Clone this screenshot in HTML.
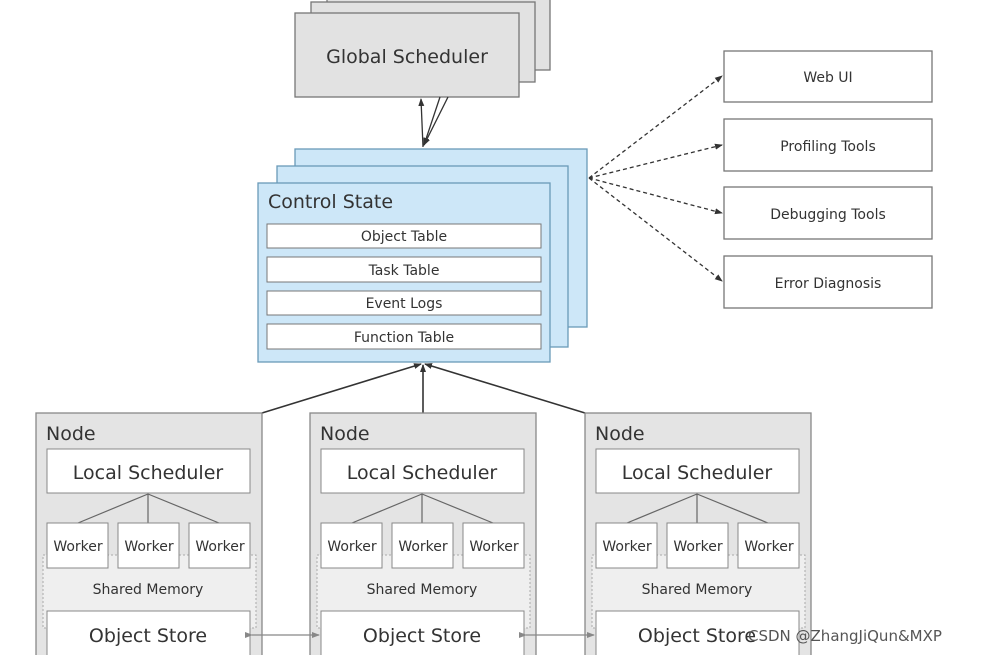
<!DOCTYPE html><html><head><style>body{margin:0;background:#fff}svg{display:block}text{font-family:"DejaVu Sans","Liberation Sans",sans-serif;fill:#333}</style></head><body>
<svg width="988" height="655" xmlns="http://www.w3.org/2000/svg">
<defs>
<marker id="a" markerWidth="8" markerHeight="8" refX="7" refY="4" orient="auto" markerUnits="userSpaceOnUse"><path d="M0,1 L8,4 L0,7z" fill="#333"/></marker>
<marker id="g" markerWidth="8" markerHeight="8" refX="7" refY="4" orient="auto" markerUnits="userSpaceOnUse"><path d="M0,1 L8,4 L0,7z" fill="#888"/></marker>
</defs>
<g fill="#e2e2e2" stroke="#777" stroke-width="1.3">
<rect x="327" y="-10" width="223" height="80"/>
<rect x="311" y="2" width="224" height="80"/>
<rect x="295" y="13" width="224" height="84"/>
</g>
<text x="407" y="63" font-size="19" text-anchor="middle">Global Scheduler</text>
<g stroke="#333" stroke-width="1.3" fill="none">
<line x1="423" y1="147" x2="421" y2="99" marker-end="url(#a)"/>
<line x1="440" y1="97" x2="424" y2="145" marker-end="url(#a)"/>
<line x1="448" y1="97" x2="424" y2="145" marker-end="url(#a)"/>
</g>
<g fill="#cde7f8" stroke="#6a9ab8" stroke-width="1.3">
<rect x="295" y="149" width="292" height="178"/>
<rect x="277" y="166" width="291" height="181"/>
<rect x="258" y="183" width="292" height="179"/>
</g>
<text x="268" y="208" font-size="19">Control State</text>
<g fill="#fff" stroke="#777" stroke-width="1">
<rect x="267" y="224" width="274" height="24"/><rect x="267" y="257" width="274" height="25"/>
<rect x="267" y="291" width="274" height="24"/><rect x="267" y="324" width="274" height="25"/>
</g>
<g font-size="14" text-anchor="middle"><text x="404" y="241">Object Table</text><text x="404" y="275">Task Table</text><text x="404" y="308">Event Logs</text><text x="404" y="342">Function Table</text></g>
<g fill="#fff" stroke="#777" stroke-width="1.3">
<rect x="724" y="51" width="208" height="51"/><rect x="724" y="119" width="208" height="52"/>
<rect x="724" y="187" width="208" height="52"/><rect x="724" y="256" width="208" height="52"/>
</g>
<g font-size="14" text-anchor="middle"><text x="828" y="82">Web UI</text><text x="828" y="151">Profiling Tools</text><text x="828" y="219">Debugging Tools</text><text x="828" y="288">Error Diagnosis</text></g>
<g stroke="#333" stroke-width="1.3" stroke-dasharray="4,3" fill="none">
<line x1="589" y1="178" x2="722" y2="76" marker-end="url(#a)"/>
<line x1="589" y1="178" x2="722" y2="145" marker-end="url(#a)"/>
<line x1="589" y1="178" x2="722" y2="213" marker-end="url(#a)"/>
<line x1="589" y1="178" x2="722" y2="281" marker-end="url(#a)"/>
</g>
<g stroke="#333" stroke-width="1.6">
<line x1="262" y1="413" x2="421" y2="364" marker-end="url(#a)"/>
<line x1="423" y1="413" x2="423" y2="365" marker-end="url(#a)"/>
<line x1="585" y1="413" x2="425" y2="364" marker-end="url(#a)"/>
</g>
<g id="n">
<rect x="36" y="413" width="226" height="250" fill="#e4e4e4" stroke="#888" stroke-width="1.3"/>
<text x="46" y="440" font-size="19">Node</text>
<rect x="47" y="449" width="203" height="44" fill="#fff" stroke="#888"/>
<text x="148" y="479" font-size="19" text-anchor="middle">Local Scheduler</text>
<rect x="43" y="555" width="213" height="73" fill="#efefef" stroke="#aaa" stroke-dasharray="2,2"/>
<g stroke="#666" stroke-width="1.2"><line x1="148" y1="494" x2="78" y2="523"/><line x1="148" y1="494" x2="148" y2="523"/><line x1="148" y1="494" x2="219" y2="523"/></g>
<g fill="#fff" stroke="#888"><rect x="47" y="523" width="61" height="45"/><rect x="118" y="523" width="61" height="45"/><rect x="189" y="523" width="61" height="45"/></g>
<g font-size="14" text-anchor="middle"><text x="78" y="551">Worker</text><text x="149" y="551">Worker</text><text x="220" y="551">Worker</text></g>
<text x="148" y="594" font-size="14" text-anchor="middle">Shared Memory</text>
<rect x="47" y="611" width="203" height="60" fill="#fff" stroke="#888"/>
<text x="148" y="642" font-size="19" text-anchor="middle">Object Store</text>
</g>
<use href="#n" x="274"/>
<use href="#n" x="549"/>
<g stroke="#888" stroke-width="1.2">
<line x1="252" y1="635" x2="319" y2="635" marker-end="url(#g)" marker-start="url(#g)"/>
<line x1="526" y1="635" x2="594" y2="635" marker-end="url(#g)" marker-start="url(#g)"/>
</g>
<text x="748" y="641" font-size="15" style="fill:#555">CSDN @ZhangJiQun&amp;MXP</text>
</svg></body></html>
